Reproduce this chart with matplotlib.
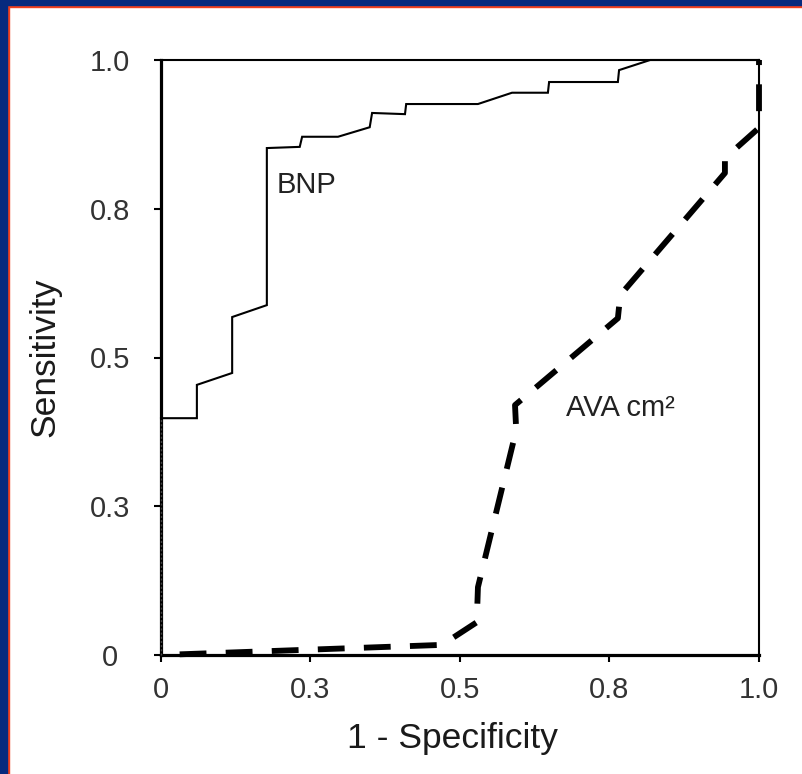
import matplotlib
matplotlib.use("Agg")
import matplotlib.pyplot as plt
from matplotlib.patches import Rectangle

plt.rcParams['font.family'] = ['Liberation Sans', 'DejaVu Sans']

# ROC data (1 - specificity, sensitivity)
bnp_x = [0.0, 0.0, 0.060, 0.060, 0.119, 0.119, 0.177, 0.177, 0.232, 0.236, 0.296, 0.349,
         0.353, 0.408, 0.410, 0.530, 0.587, 0.647, 0.649, 0.764, 0.766, 0.818, 1.0]
bnp_y = [0.0, 0.398, 0.398, 0.454, 0.474, 0.568, 0.588, 0.852, 0.854, 0.871, 0.871, 0.887,
         0.911, 0.909, 0.926, 0.926, 0.945, 0.945, 0.963, 0.963, 0.983, 1.0, 1.0]

ava_x = [0.0, 0.470, 0.528, 0.530, 0.594, 0.592, 0.764, 0.768, 0.943, 0.943, 1.0, 1.0]
ava_y = [0.0, 0.017, 0.055, 0.114, 0.378, 0.420, 0.566, 0.605, 0.810, 0.835, 0.886, 1.0]

tick_pos = [0.0, 0.25, 0.5, 0.75, 1.0]
tick_labels = ["0", "0.3", "0.5", "0.8", "1.0"]

W, H = 803, 774
fig = plt.figure(figsize=(W / 100, H / 100), dpi=100)
fig.patch.set_facecolor('white')

# Slide frame (blue band with red inner line) on left and top
blue = '#062a7e'
red = '#f0401e'
fig.patches.append(Rectangle((0, 0), 9 / W, 1, transform=fig.transFigure, color=red, zorder=0))
fig.patches.append(Rectangle((0, 1 - 7 / H), 1, 7 / H, transform=fig.transFigure, color=red, zorder=0))
fig.patches.append(Rectangle((0, 0), 7 / W, 1, transform=fig.transFigure, color=blue, zorder=1))
fig.patches.append(Rectangle((0, 1 - 5 / H), 1, 5 / H, transform=fig.transFigure, color=blue, zorder=1))

ax = fig.add_axes([161 / W, 1 - 655 / H, (759 - 161) / W, (655 - 60) / H])
ax.set_xlim(0, 1)
ax.set_ylim(0, 1)

for side, lw in [('left', 2.3), ('bottom', 2.3), ('top', 1.5), ('right', 1.5)]:
    ax.spines[side].set_linewidth(lw)
    ax.spines[side].set_color('black')

# BNP curve
ax.plot(bnp_x[:2], bnp_y[:2], color='#444444', lw=1.0, ls=(0, (1.5, 1.5)), clip_on=False, zorder=3)
ax.plot(bnp_x[1:], bnp_y[1:], color='black', lw=1.5, clip_on=False, zorder=3,
        solid_joinstyle='miter')

# AVA curve
ax.plot(ava_x, ava_y, color='black', lw=4.2, ls=(4.7, (4.6, 3.3)), clip_on=False, zorder=3,
        dash_capstyle='butt')

ax.set_xticks(tick_pos)
ax.set_xticklabels(tick_labels)
ax.set_yticks(tick_pos)
ax.set_yticklabels(tick_labels)
ax.tick_params(axis='both', direction='out', length=5, width=1.5, color='black',
               labelsize=21, labelcolor='#333333')
ax.tick_params(axis='x', pad=10)
ax.tick_params(axis='y', pad=32)
for lab in ax.get_yticklabels():
    lab.set_horizontalalignment('center')

ax.set_xlabel("1 - Specificity", fontsize=25.5, color='#1a1a1a')
ax.set_ylabel("Sensitivity", fontsize=25.5, color='#1a1a1a')
ax.xaxis.set_label_coords(0.487, -0.112)
ax.yaxis.set_label_coords(-0.166, 0.5)

ax.text(0.193, 0.79, "BNP", fontsize=21, color='#222222', va='center', ha='left')
ax.text(0.677, 0.415, "AVA cm²", fontsize=21, color='#222222', va='center', ha='left')

fig.savefig("out.png", dpi=100, facecolor='white')
